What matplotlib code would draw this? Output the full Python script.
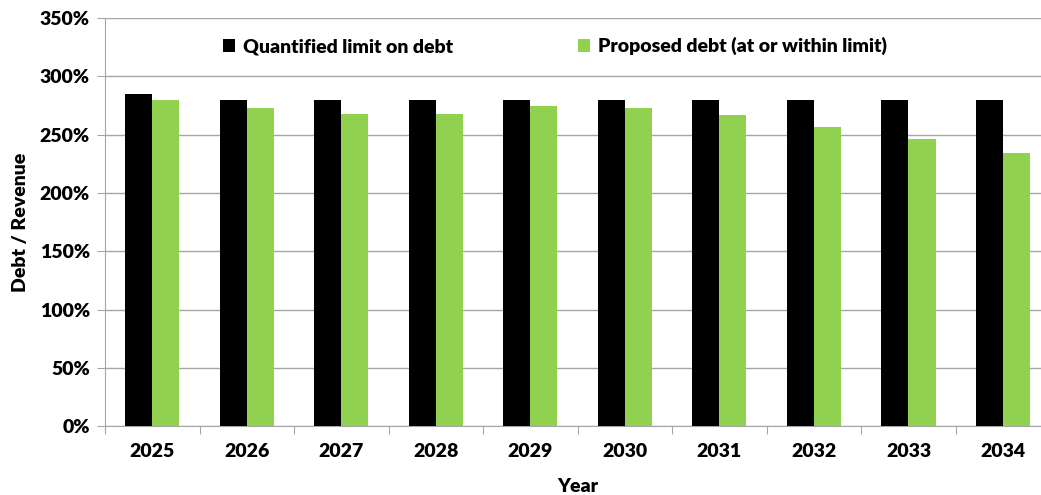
import matplotlib.pyplot as plt
import numpy as np
from matplotlib.ticker import FixedLocator, FuncFormatter

plt.rcParams['font.family'] = ['Lato', 'DejaVu Sans']
plt.rcParams['font.weight'] = 'heavy'

years = ['2025', '2026', '2027', '2028', '2029', '2030', '2031', '2032', '2033', '2034']
limit = [285, 280, 280, 280, 280, 280, 280, 280, 280, 280]
proposed = [280, 273, 268, 268, 275, 273, 267, 257, 246, 234]

fig = plt.figure(figsize=(10.41, 4.95), dpi=100)
# the original chart runs a little past the right edge of the image
ax = fig.add_axes([0.1009, 0.139, 0.908, 0.8245])

x = np.arange(len(years))
w = 0.286
ax.bar(x - w/2, limit, w, color='black', label='Quantified limit on debt', zorder=3)
ax.bar(x + w/2, proposed, w, color='#92D050', label='Proposed debt (at or within limit)', zorder=3)

ax.set_xlim(-0.5, len(years) - 0.5)
ax.set_ylim(0, 350)
ax.set_yticks(np.arange(0, 351, 50))
ax.yaxis.set_major_formatter(FuncFormatter(lambda v, p: '%d%%' % v))
ax.grid(axis='y', color='#A6A6A6', linewidth=1, zorder=0)

# ticks on category boundaries, labels at centres
ax.xaxis.set_major_locator(FixedLocator(np.arange(-0.5, len(years), 1)))
ax.xaxis.set_minor_locator(FixedLocator(x))
ax.set_xticklabels([])
ax.set_xticklabels(years, minor=True)
ax.tick_params(axis='x', which='major', length=6, color='#A6A6A6', direction='out')
ax.tick_params(axis='x', which='minor', length=0, pad=12, labelsize=14)
ax.tick_params(axis='y', length=6, color='#A6A6A6', labelsize=14, pad=5)

for s in ['top', 'right']:
    ax.spines[s].set_visible(False)
for s in ['left', 'bottom']:
    ax.spines[s].set_color('#A6A6A6')

ax.set_xlabel('Year', fontsize=14, fontweight='heavy', labelpad=13)
ax.set_ylabel('Debt / Revenue', fontsize=14, fontweight='heavy', labelpad=8)

ax.legend(loc='center', bbox_to_anchor=(0.476, 0.931), ncol=2, frameon=False,
          fontsize=14, handlelength=0.65, handleheight=0.65, handletextpad=0.4,
          columnspacing=6.4)

fig.savefig('out.png', dpi=100)
